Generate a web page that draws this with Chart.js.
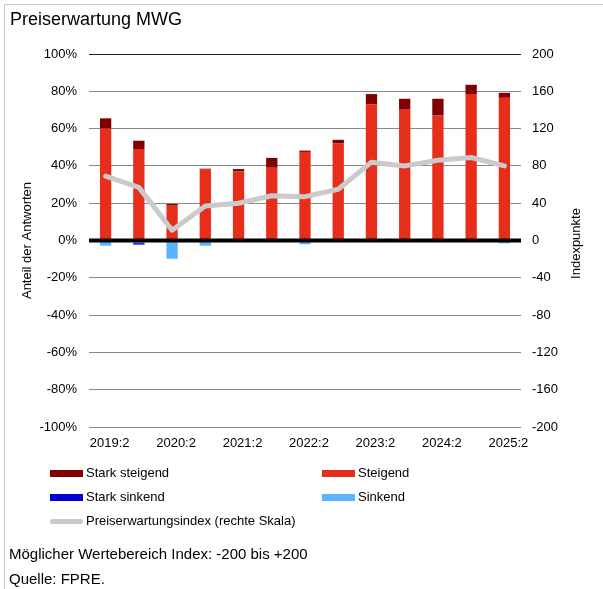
<!DOCTYPE html>
<html>
<head>
<meta charset="utf-8">
<script src="https://cdn.jsdelivr.net/npm/chart.js@4/dist/chart.umd.min.js"></script>
<style>
  html, body { margin: 0; padding: 0; background: #fff; }
  body { width: 603px; height: 589px; position: relative; overflow: hidden;
         font-family: "Liberation Sans", Arial, sans-serif; color: #000; }
  #frame { position: absolute; left: 4px; top: 4px; width: 600px; height: 620px;
           border: 1px solid #c8c8c8; border-right: none; }
  #chart { position: absolute; left: 0; top: 0; }
  .title { position: absolute; left: 10px; top: 9px; font-size: 18px; }
  .note { position: absolute; left: 9px; font-size: 15px; line-height: 17px; }
  .lg { position: absolute; font-size: 13px; line-height: 15px; }
  .sw { position: absolute; height: 7px; }
  .sw.line { height: 5px; border-radius: 3px; }
</style>
</head>
<body>
<div id="frame"></div>
<canvas id="chart" width="603" height="589"></canvas>
<div class="title">Preiserwartung MWG</div>
<div id="legend"></div>
<div class="note" style="top:545px">Möglicher Wertebereich Index: -200 bis +200</div>
<div class="note" style="top:570px">Quelle: FPRE.</div>
<script>
// Halbjahreswerte, Anteile in % der Antworten
const categories = ['2019:2', '2019:4', '2020:2', '2020:4', '2021:2', '2021:4', '2022:2',
                    '2022:4', '2023:2', '2023:4', '2024:2', '2024:4', '2025:2'];
const steigend      = [60, 49, 19, 38, 37, 39, 47.5, 52, 73, 70.5, 67, 78.5, 76.5];
const starkSteigend = [5.5, 4.5, 0.6, 0.5, 1.3, 5.3, 0.7, 2, 5.5, 5.5, 9, 5, 2.7];
const sinkend       = [-2.8, -1.4, -9.8, -2.8, 0, 0, -2, 0, 0, 0, 0, 0, -1.5];
const starkSinkend  = [0, -0.8, 0, 0, 0, 0, 0, 0, 0, 0, 0, 0, 0];
// Preiserwartungsindex, rechte Skala
const preisIndex    = [69, 57, 11, 37, 40, 48, 47, 55, 84, 80, 86, 89, 80];

const leftTicks = [-100, -80, -60, -40, -20, 0, 20, 40, 60, 80, 100];

const colors = {
    starkSteigend: '#7f0000',
    steigend: '#e62e1b',
    starkSinkend: '#0000d0',
    sinkend: '#5ab4ff',
    index: '#cacaca'
};

const font = { family: '"Liberation Sans", Arial, sans-serif', size: 13 };

// thick zero line drawn over the bars
const zeroLine = {
    id: 'zeroLine',
    afterDatasetsDraw(chart) {
        const { ctx, chartArea, scales } = chart;
        const y0 = scales.y.getPixelForValue(0);
        ctx.save();
        ctx.strokeStyle = '#000';
        ctx.lineWidth = 4;
        ctx.beginPath();
        ctx.moveTo(chartArea.left, y0);
        ctx.lineTo(chartArea.right, y0);
        ctx.stroke();
        ctx.restore();
    }
};

// right axis title, reading bottom to top like the left one
const rightTitle = {
    id: 'rightTitle',
    afterDraw(chart) {
        const { ctx, chartArea, scales } = chart;
        const x = scales.y2.right - 27;
        const y = (chartArea.top + chartArea.bottom) / 2 + 3;
        ctx.save();
        ctx.translate(x, y);
        ctx.rotate(-Math.PI / 2);
        ctx.font = '13px "Liberation Sans", Arial, sans-serif';
        ctx.fillStyle = '#000';
        ctx.textAlign = 'center';
        ctx.textBaseline = 'middle';
        ctx.fillText('Indexpunkte', 0, 0);
        ctx.restore();
    }
};

const barOpts = { yAxisID: 'y', barPercentage: 0.34, categoryPercentage: 1, order: 2 };

const chart = new Chart(document.getElementById('chart'), {
    type: 'bar',
    data: {
        labels: categories,
        datasets: [
            { label: 'Steigend', data: steigend, backgroundColor: colors.steigend, ...barOpts },
            { label: 'Stark steigend', data: starkSteigend, backgroundColor: colors.starkSteigend, ...barOpts },
            { label: 'Sinkend', data: sinkend, backgroundColor: colors.sinkend, ...barOpts },
            { label: 'Stark sinkend', data: starkSinkend, backgroundColor: colors.starkSinkend, ...barOpts },
            {
                type: 'line', label: 'Preiserwartungsindex (rechte Skala)', data: preisIndex,
                yAxisID: 'y2', borderColor: colors.index, borderWidth: 5, pointRadius: 0,
                tension: 0, borderJoinStyle: 'round', borderCapStyle: 'round', order: 1
            }
        ]
    },
    options: {
        responsive: false,
        animation: false,
        layout: { padding: { top: 54, left: 0, right: 0, bottom: 0 } },
        plugins: { legend: { display: false }, tooltip: { enabled: false } },
        scales: {
            x: {
                stacked: true,
                grid: { display: false },
                border: { display: false },
                ticks: {
                    font, color: '#000', padding: 1, labelOffset: 4,
                    autoSkip: false, maxRotation: 0,
                    callback: (v, i) => (i % 2 === 0 ? categories[i] : '')
                },
                afterFit: (s) => { s.height = 162; }
            },
            y: {
                stacked: true,
                min: -100, max: 100,
                afterBuildTicks: (s) => { s.ticks = leftTicks.map(v => ({ value: v })); },
                border: { display: false },
                grid: {
                    drawTicks: false,
                    color: (c) => (c.tick && c.tick.value === 100 ? '#222' : '#8a8a8a'),
                    lineWidth: 1
                },
                ticks: { font, color: '#000', padding: 12, callback: (v) => v + '%' },
                title: { display: true, text: 'Anteil der Antworten', font, color: '#000', padding: { top: 20 } },
                afterFit: (s) => { s.width = 89; }
            },
            y2: {
                position: 'right',
                min: -200, max: 200,
                border: { display: false },
                grid: { drawOnChartArea: false, drawTicks: false },
                ticks: { font, color: '#000', padding: 11, stepSize: 40 },
                afterFit: (s) => { s.width = 82; }
            }
        }
    },
    plugins: [zeroLine, rightTitle]
});

// legend, two columns
const legendItems = [
    { text: 'Stark steigend', color: colors.starkSteigend, x: 50, y: 473 },
    { text: 'Steigend', color: colors.steigend, x: 322, y: 473 },
    { text: 'Stark sinkend', color: colors.starkSinkend, x: 50, y: 497 },
    { text: 'Sinkend', color: colors.sinkend, x: 322, y: 497 },
    { text: 'Preiserwartungsindex (rechte Skala)', color: colors.index, x: 50, y: 521, line: true }
];
const legend = document.getElementById('legend');
legendItems.forEach(item => {
    const sw = document.createElement('div');
    sw.className = 'sw' + (item.line ? ' line' : '');
    const h = item.line ? 5 : 7;
    sw.style.left = item.x + 'px';
    sw.style.top = (item.y - h / 2) + 'px';
    sw.style.width = '33px';
    sw.style.background = item.color;
    legend.appendChild(sw);
    const t = document.createElement('div');
    t.className = 'lg';
    t.style.left = (item.x + 36) + 'px';
    t.style.top = (item.y - 8) + 'px';
    t.textContent = item.text;
    legend.appendChild(t);
});
</script>
</body>
</html>
